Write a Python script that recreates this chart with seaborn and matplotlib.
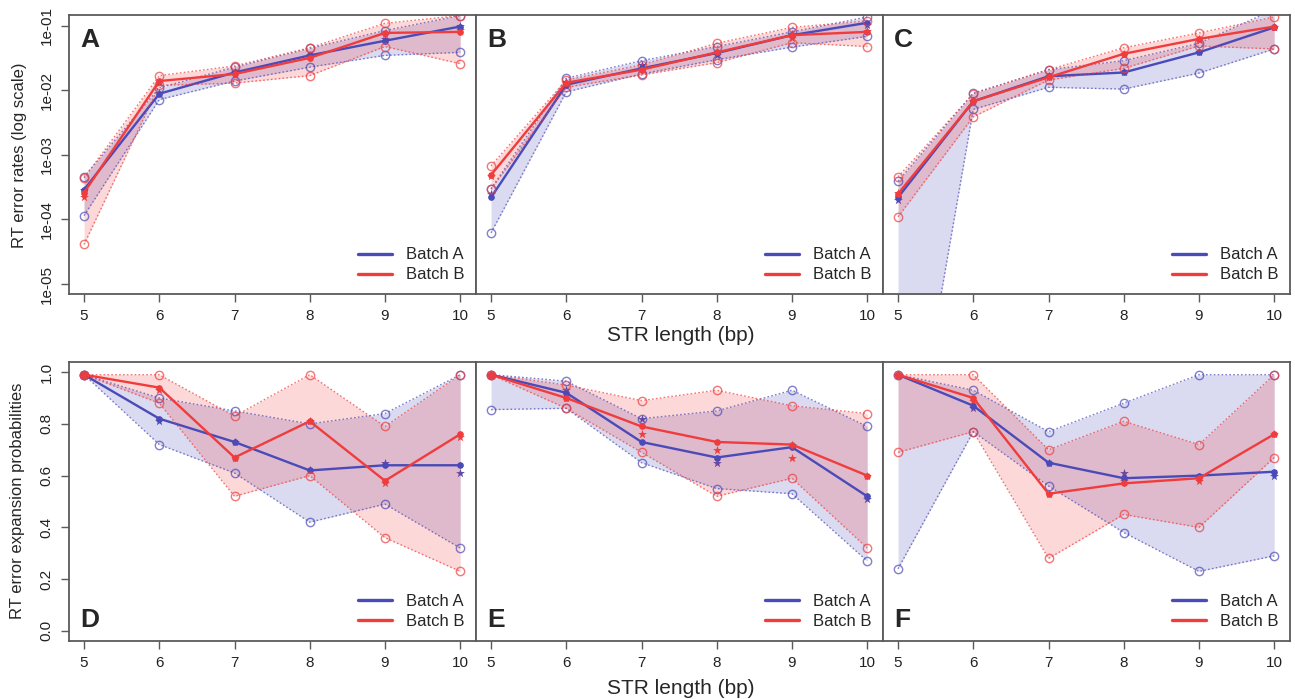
import numpy as np
import pandas as pd
import matplotlib
matplotlib.use("Agg")
import matplotlib.pyplot as plt
from matplotlib.lines import Line2D
import seaborn as sns

# STR lengths on the x axis
str_len = [5, 6, 7, 8, 9, 10]

# --- top row: RT error rates (log scale) ---
A_blue_mid = [2.9e-4, 8.9e-3, 1.9e-2, 3.5e-2, 5.9e-2, 9.8e-2]
A_blue_hi = [4.6e-4, 1.1e-2, 2.3e-2, 4.5e-2, 8.5e-2, 1.45e-1]
A_blue_lo = [1.15e-4, 7.2e-3, 1.4e-2, 2.3e-2, 3.5e-2, 3.9e-2]
A_blue_star = [2.9e-4, 9.2e-3, 1.9e-2, 3.6e-2, 6.2e-2, 1.0e-1]
A_red_mid = [2.6e-4, 1.4e-2, 1.8e-2, 3.2e-2, 7.8e-2, 8.1e-2]
A_red_hi = [4.4e-4, 1.7e-2, 2.4e-2, 4.6e-2, 1.1e-1, 1.45e-1]
A_red_lo = [4.1e-5, 1.2e-2, 1.3e-2, 1.7e-2, 4.8e-2, 2.6e-2]
A_red_star = [2.2e-4, 1.3e-2, 1.8e-2, 3.3e-2, 7.4e-2, 8.6e-2]

B_blue_mid = [2.2e-4, 1.23e-2, 2.2e-2, 3.8e-2, 7.2e-2, 1.12e-1]
B_blue_hi = [3.0e-4, 1.55e-2, 2.9e-2, 4.8e-2, 8.1e-2, 1.38e-1]
B_blue_lo = [6.2e-5, 9.5e-3, 1.8e-2, 3.0e-2, 4.7e-2, 6.9e-2]
B_blue_star = [2.5e-4, 1.35e-2, 2.5e-2, 3.5e-2, 7.5e-2, 1.05e-1]
B_red_mid = [4.9e-4, 1.32e-2, 2.1e-2, 3.9e-2, 7.2e-2, 8.1e-2]
B_red_hi = [6.8e-4, 1.45e-2, 2.5e-2, 5.4e-2, 9.5e-2, 1.2e-1]
B_red_lo = [2.95e-4, 1.12e-2, 1.74e-2, 2.7e-2, 5.5e-2, 4.8e-2]
B_red_star = [4.8e-4, 1.3e-2, 2.2e-2, 4.0e-2, 6.5e-2, 8.5e-2]

C_blue_mid = [2.2e-4, 6.8e-3, 1.66e-2, 1.9e-2, 3.9e-2, 9.5e-2]
C_blue_hi = [3.9e-4, 9.1e-3, 2.1e-2, 2.9e-2, 5.4e-2, 1.8e-1]
C_blue_lo = [1e-9, 5.1e-3, 1.12e-2, 1.05e-2, 1.86e-2, 4.4e-2]
C_blue_star = [2.0e-4, 6.8e-3, 1.7e-2, 1.9e-2, 3.9e-2, 9.5e-2]
C_red_mid = [2.5e-4, 6.8e-3, 1.6e-2, 3.7e-2, 6.3e-2, 9.8e-2]
C_red_hi = [4.6e-4, 8.9e-3, 2.1e-2, 4.6e-2, 7.8e-2, 1.38e-1]
C_red_lo = [1.1e-4, 3.9e-3, 1.45e-2, 2.2e-2, 4.9e-2, 4.4e-2]
C_red_star = [2.6e-4, 6.8e-3, 1.6e-2, 3.7e-2, 6.3e-2, 9.8e-2]

# --- bottom row: RT error expansion probabilities ---
D_blue_mid = [0.99, 0.82, 0.73, 0.62, 0.64, 0.64]
D_blue_hi = [0.99, 0.90, 0.85, 0.80, 0.84, 0.99]
D_blue_lo = [0.99, 0.72, 0.61, 0.42, 0.49, 0.32]
D_blue_star = [0.99, 0.81, 0.73, 0.62, 0.65, 0.61]
D_red_mid = [0.99, 0.94, 0.67, 0.81, 0.58, 0.76]
D_red_hi = [0.99, 0.99, 0.83, 0.99, 0.79, 0.99]
D_red_lo = [0.99, 0.88, 0.52, 0.60, 0.36, 0.23]
D_red_star = [0.99, 0.93, 0.67, 0.81, 0.57, 0.75]

E_blue_mid = [0.99, 0.92, 0.73, 0.67, 0.71, 0.52]
E_blue_hi = [0.99, 0.965, 0.82, 0.85, 0.93, 0.79]
E_blue_lo = [0.855, 0.86, 0.65, 0.55, 0.53, 0.27]
E_blue_star = [0.99, 0.93, 0.82, 0.65, 0.72, 0.51]
E_red_mid = [0.99, 0.90, 0.79, 0.73, 0.72, 0.60]
E_red_hi = [0.99, 0.95, 0.89, 0.93, 0.87, 0.84]
E_red_lo = [0.99, 0.86, 0.69, 0.52, 0.59, 0.32]
E_red_star = [0.99, 0.90, 0.76, 0.70, 0.67, 0.60]

F_blue_mid = [0.99, 0.87, 0.65, 0.59, 0.60, 0.615]
F_blue_hi = [0.99, 0.93, 0.77, 0.88, 0.99, 0.99]
F_blue_lo = [0.24, 0.77, 0.56, 0.38, 0.23, 0.29]
F_blue_star = [0.99, 0.86, 0.65, 0.61, 0.59, 0.60]
F_red_mid = [0.99, 0.90, 0.53, 0.57, 0.59, 0.76]
F_red_hi = [0.99, 0.99, 0.70, 0.81, 0.72, 0.99]
F_red_lo = [0.69, 0.77, 0.28, 0.45, 0.40, 0.67]
F_red_star = [0.99, 0.89, 0.53, 0.58, 0.58, 0.76]

panel_letters = ["A", "B", "C", "D", "E", "F"]
log_ticks = [1e-5, 1e-4, 1e-3, 1e-2, 1e-1]
log_tick_labels = ["1e-05", "1e-04", "1e-03", "1e-02", "1e-01"]
prob_ticks = [0.0, 0.2, 0.4, 0.6, 0.8, 1.0]
prob_tick_labels = ["0.0", "0.2", "0.4", "0.6", "0.8", "1.0"]

BLUE = "#4a4ab8"
RED = "#f03c3c"
FRAME = "#5a5a5a"

sns.set_theme(style="white")
plt.rcParams["font.family"] = ["Liberation Sans", "DejaVu Sans"]


def draw_batch(ax, mid, hi, lo, star, color):
    df = pd.DataFrame({"len": str_len, "mid": mid, "hi": hi, "lo": lo, "star": star})
    ax.fill_between(df["len"], df["lo"], df["hi"], color=color, alpha=0.2, lw=0)
    for col in ["hi", "lo"]:
        sns.lineplot(data=df, x="len", y=col, ax=ax, color=color, linestyle=(0, (1.2, 1.6)),
                     lw=1.0, marker="o", markersize=6, markerfacecolor="none",
                     markeredgecolor=color, markeredgewidth=1.0, alpha=0.7, errorbar=None)
    sns.lineplot(data=df, x="len", y="mid", ax=ax, color=color, lw=1.7, marker="o",
                 markersize=4, markeredgecolor=color, markerfacecolor=color, errorbar=None)
    sns.scatterplot(data=df, x="len", y="star", ax=ax, color=color, marker="*", s=45,
                    linewidth=0)


fig = plt.figure(figsize=(12.95, 6.99), dpi=100)
W, H = 1295, 699
left_px, panel_w = 69, 407
rows = [(15, 294), (362, 641)]

top_data = [
    (A_blue_mid, A_blue_hi, A_blue_lo, A_blue_star, A_red_mid, A_red_hi, A_red_lo, A_red_star),
    (B_blue_mid, B_blue_hi, B_blue_lo, B_blue_star, B_red_mid, B_red_hi, B_red_lo, B_red_star),
    (C_blue_mid, C_blue_hi, C_blue_lo, C_blue_star, C_red_mid, C_red_hi, C_red_lo, C_red_star),
]
bottom_data = [
    (D_blue_mid, D_blue_hi, D_blue_lo, D_blue_star, D_red_mid, D_red_hi, D_red_lo, D_red_star),
    (E_blue_mid, E_blue_hi, E_blue_lo, E_blue_star, E_red_mid, E_red_hi, E_red_lo, E_red_star),
    (F_blue_mid, F_blue_hi, F_blue_lo, F_blue_star, F_red_mid, F_red_hi, F_red_lo, F_red_star),
]

handles = [Line2D([], [], color=BLUE, lw=2.4), Line2D([], [], color=RED, lw=2.4)]

for r, (top_px, bot_px) in enumerate(rows):
    data_row = top_data if r == 0 else bottom_data
    for c in range(3):
        x0 = left_px + c * panel_w
        ax = fig.add_axes([x0 / W, 1 - bot_px / H, panel_w / W, (bot_px - top_px) / H])
        if r == 0:
            ax.set_yscale("log")
        bm, bh, bl, bs, rm, rh, rl, rs = data_row[c]
        draw_batch(ax, bm, bh, bl, bs, BLUE)
        draw_batch(ax, rm, rh, rl, rs, RED)

        ax.set_xlim(4.8, 10.21)
        ax.set_xticks(str_len)
        ax.set_xticklabels([str(v) for v in str_len])
        if r == 0:
            ax.set_ylim(10 ** -5.155, 10 ** -0.83)
            ax.set_yticks(log_ticks)
            ax.set_yticklabels(log_tick_labels, rotation=90, va="center")
            ax.minorticks_off()
        else:
            ax.set_ylim(-0.039, 1.039)
            ax.set_yticks(prob_ticks)
            ax.set_yticklabels(prob_tick_labels, rotation=90, va="center")
        ax.set_xlabel("")
        ax.set_ylabel("")

        for s in ax.spines.values():
            s.set_color(FRAME)
            s.set_linewidth(1.3)
        ax.tick_params(axis="both", direction="out", length=6, width=1.0, color=FRAME,
                       labelsize=11, labelcolor="#222222", pad=5, bottom=True)
        if c > 0:
            ax.tick_params(axis="y", left=False, labelleft=False)
        else:
            ax.tick_params(axis="y", left=True)

        letter = panel_letters[r * 3 + c]
        if r == 0:
            ax.text(0.027, 0.955, letter, transform=ax.transAxes, fontsize=19,
                    fontweight="bold", ha="left", va="top")
        else:
            ax.text(0.027, 0.05, letter, transform=ax.transAxes, fontsize=19,
                    fontweight="bold", ha="left", va="baseline")

        ax.legend(handles, ["Batch A", "Batch B"], loc="lower right", frameon=False,
                  fontsize=12, handlelength=2.0, handletextpad=0.85, labelspacing=0.3,
                  borderaxespad=0.3)

fig.text(681 / W, 1 - 336 / H, "STR length (bp)", ha="center", va="center", fontsize=15)
fig.text(681 / W, 1 - 688 / H, "STR length (bp)", ha="center", va="center", fontsize=15)
fig.text(20 / W, 1 - 155 / H, "RT error rates (log scale)", rotation=90, ha="center",
         va="center", fontsize=12)
fig.text(18 / W, 1 - 501 / H, "RT error expansion probabilities", rotation=90,
         ha="center", va="center", fontsize=12)

fig.savefig("out.png", dpi=100)
